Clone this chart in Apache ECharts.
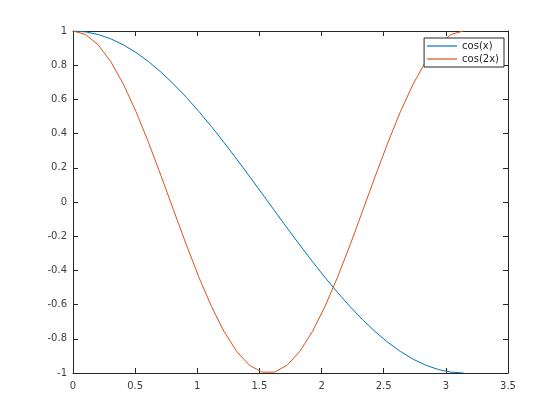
<!DOCTYPE html>
<html><head><meta charset="utf-8">
<script src="https://cdn.jsdelivr.net/npm/echarts@6/dist/echarts.min.js"></script>
<style>html,body{margin:0;padding:0;background:#fff}#c{width:560px;height:420px}</style>
</head><body><div id="c"></div>
<script>
var xs = [0,0.1013,0.2027,0.3040,0.4054,0.5067,0.6081,0.7094,0.8107,0.9121,1.0134,1.1148,1.2161,1.3175,1.4188,1.5201,1.6215,1.7228,1.8242,1.9255,2.0268,2.1282,2.2295,2.3309,2.4322,2.5336,2.6349,2.7362,2.8376,2.9389,3.0403,3.1416];
var cosX = [1,0.99487,0.97953,0.95414,0.91896,0.87435,0.82076,0.75876,0.68896,0.61210,0.52896,0.44039,0.34730,0.25065,0.15142,0.05064,-0.05064,-0.15142,-0.25065,-0.34730,-0.44039,-0.52896,-0.61210,-0.68896,-0.75876,-0.82076,-0.87435,-0.91896,-0.95414,-0.97953,-0.99487,-1];
var cos2X = [1,0.97953,0.91896,0.82076,0.68896,0.52896,0.34730,0.15142,-0.05064,-0.25065,-0.44039,-0.61210,-0.75876,-0.87435,-0.95414,-0.99487,-0.99487,-0.95414,-0.87435,-0.75876,-0.61210,-0.44039,-0.25065,-0.05064,0.15142,0.34730,0.52896,0.68896,0.82076,0.91896,0.97953,1];
var seriesNames = ['cos(x)','cos(2x)'];

function pairs(ys){ return xs.map(function(x,i){return [x, ys[i]];}); }
var axisCol = '#262626';
var txt = {color:'#404040', fontFamily:'DejaVu Sans', fontSize:10};
function xa(show){ return {type:'value', min:0, max:3.5, interval:0.5, position: show?'bottom':'top',
  axisLine:{show:true, onZero:false, lineStyle:{color:axisCol,width:1}},
  axisTick:{show:true, inside:true, length:5, lineStyle:{color:axisCol}},
  axisLabel:Object.assign({show:show, margin:8}, txt), splitLine:{show:false}}; }
function ya(show){ return {type:'value', min:-1, max:1, interval:0.2, position: show?'left':'right',
  axisLine:{show:true, onZero:false, lineStyle:{color:axisCol,width:1}},
  axisTick:{show:true, inside:true, length:5, lineStyle:{color:axisCol}},
  axisLabel:Object.assign({show:show, margin:6, padding:[3,0,0,0]}, txt), splitLine:{show:false}}; }

var chart = echarts.init(document.getElementById('c'), null, {renderer:'canvas'});
chart.setOption({
  animation:false,
  backgroundColor:'#fff',
  grid:{left:73, right:52, top:31, bottom:47},
  xAxis:[xa(true), xa(false)],
  yAxis:[ya(true), ya(false)],
  legend:{
    right:56, top:38, orient:'vertical', icon:'rect', itemWidth:30, itemHeight:1.2, itemGap:1,
    backgroundColor:'#fff', borderColor:axisCol, borderWidth:1, padding:[2,5,2,3],
    textStyle:{color:'#262626', fontFamily:'DejaVu Sans', fontSize:10, lineHeight:12},
    data:seriesNames
  },
  series:[
    {name:seriesNames[0], type:'line', data:pairs(cosX), symbol:'none', color:'#0072BD', lineStyle:{width:1}, clip:true},
    {name:seriesNames[1], type:'line', data:pairs(cos2X), symbol:'none', color:'#D95319', lineStyle:{width:1}, clip:true}
  ]
});
</script></body></html>
